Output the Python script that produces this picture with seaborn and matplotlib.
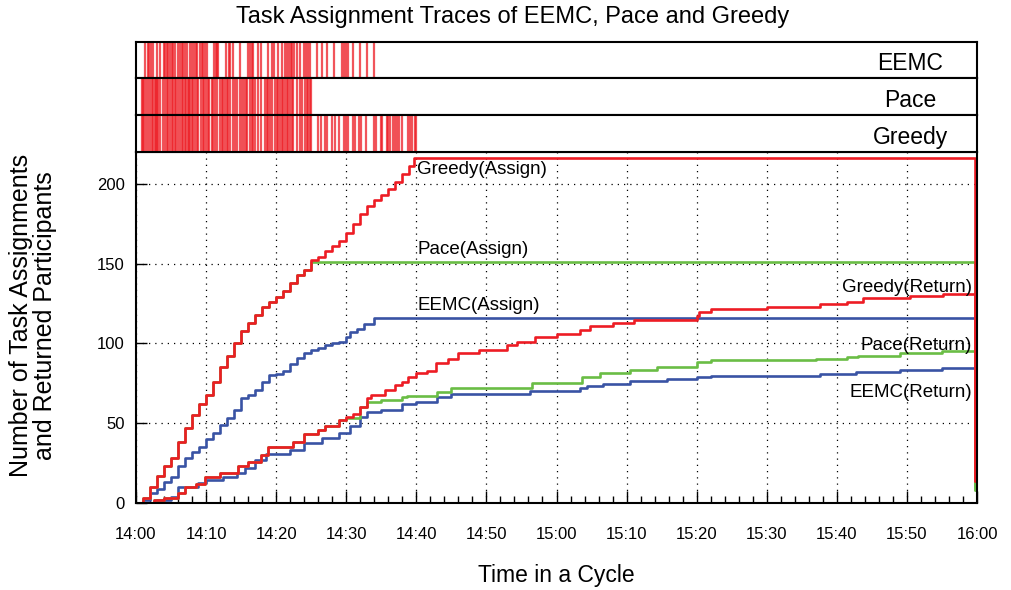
import numpy as np
import pandas as pd
import matplotlib
matplotlib.use("Agg")
import matplotlib.pyplot as plt
import seaborn as sns

# ---------------- data (minutes after 14:00) ----------------
greedy_assign_t = [0, 1, 2, 3, 4, 5, 6, 7, 8, 9, 10, 11, 12, 13, 14, 15, 16, 17, 18, 19, 20,
                   21, 22, 23, 24, 25, 26, 27, 28, 29, 30, 31, 32, 33, 34, 35, 36, 37, 38, 39,
                   39.6, 119.7, 119.7]
greedy_assign_v = [0, 3, 10, 17, 23, 28, 38, 47, 55, 62, 68, 76, 85, 92, 100, 108, 113, 118, 123,
                   126, 129, 133, 138, 143, 146, 152, 154, 158, 161, 164, 169, 175, 181, 186, 190,
                   193, 197, 201, 206, 211, 216, 216, 14]

pace_assign_t = [0, 1, 2, 3, 4, 5, 6, 7, 8, 9, 10, 11, 12, 13, 14, 15, 16, 17, 18, 19, 20,
                 21, 22, 23, 24, 25, 119.7, 119.7]
pace_assign_v = [0, 3, 10, 17, 23, 28, 38, 47, 55, 62, 68, 76, 85, 92, 100, 108, 113, 118, 123,
                 126, 129, 133, 138, 143, 146, 151, 151, 8]

eemc_assign_t = [0, 1, 2, 3, 4, 5, 6, 7, 8, 9, 10, 11, 12, 13, 14, 15, 16, 17, 18, 19, 20,
                 21, 22, 23, 24, 25, 26, 27, 28, 29, 30, 30.5, 31.5, 32.5, 34, 119.7, 119.7]
eemc_assign_v = [0, 2, 6, 9, 13, 16, 23, 28, 32, 35, 40, 44, 49, 53, 58, 66, 68, 71, 76, 80, 81,
                 83, 87, 91, 94, 96, 97, 99, 100, 101, 104, 107, 109, 112, 116, 116, 10]

greedy_return_t = [0, 2.5, 4, 6, 7, 8.5, 9.8, 12, 14.5, 16, 17.9, 18.8, 22.4, 24, 26, 27, 29, 30,
                   31, 32, 33, 33.5, 35.5, 37, 38, 38.8, 40, 41.5, 42.8, 44.5, 46, 49, 53, 54.3,
                   57, 60, 63.4, 64.8, 68, 71, 80, 80.4, 82, 90, 97.6, 101.4, 103.7, 110.4,
                   115.2, 119.7, 119.7]
greedy_return_v = [0, 2, 3, 6, 10, 12, 16, 19, 23, 26, 30, 35, 38, 43, 46, 48, 52, 54, 56, 60, 66,
                   68, 71, 74, 76, 79, 81.5, 83, 88, 90, 94, 96, 99, 101, 104, 106, 108.5, 111,
                   113, 115, 117, 120, 121.5, 123, 125, 126, 128.5, 130, 131, 131, 14]

pace_return_t = [0, 2.5, 4, 6, 7, 8.5, 9.8, 12, 14.5, 16, 17.9, 18.8, 22.4, 24, 26, 27, 29, 30,
                 32, 33, 35, 38, 38.6, 42.9, 45, 56.5, 63.6, 66.2, 70.5, 74.3, 80, 82.1, 97,
                 101.4, 103, 109, 115, 119.7, 119.7]
pace_return_v = [0, 2, 3, 6, 10, 12, 16, 19, 23, 26, 30, 35, 38, 43, 46, 48, 52, 53, 60, 63,
                 64.5, 66.5, 67, 69.8, 72, 75.5, 78.8, 81.7, 83.4, 85.5, 88.6, 89.6, 90.5, 91.5,
                 92.4, 94, 95, 95, 8]

eemc_return_t = [0, 3, 5, 6, 8.9, 10, 12.4, 14.4, 15.6, 17, 18.6, 22, 24, 26.5, 29, 30.5, 32,
                 33, 35, 38, 40, 42.9, 45, 56.2, 63.4, 64.3, 66.7, 70.5, 75.7, 80, 82.1, 97.6,
                 102.8, 109, 115, 119.7, 119.7]
eemc_return_v = [0, 2, 4, 10, 12.5, 14.5, 16.5, 19, 22, 27, 31, 33, 37.6, 40.8, 44, 48, 54, 57,
                 58.5, 62, 63.5, 66.6, 68.3, 70.4, 72, 73.4, 74.6, 76.5, 77.6, 78.8, 79.6, 81,
                 82, 83.4, 84.6, 84.6, 10]

# assignment event times for the trace strips
eemc_events = [1.28, 1.71, 1.9, 2.1, 2.47, 2.95, 3.42, 4.0, 4.2, 4.4, 4.6, 4.85, 5.1, 5.3, 5.56,
               6.04, 6.3, 6.5, 6.75, 7.0, 7.3, 7.7, 8.05, 8.3, 8.5, 8.66, 9.1, 9.4, 9.6, 9.9,
               10.2, 11.1, 11.4, 11.6, 11.75, 12.9, 13.2, 13.4, 13.8, 14.9, 16.0, 16.3, 16.6,
               16.7, 17.4, 17.9, 18.8, 19.4, 19.7, 20.3, 20.8, 21.3, 21.5, 21.9, 22.1, 22.3,
               22.5, 23.0, 23.4, 24.0, 24.3, 24.5, 24.8, 25.8, 26.5, 27.2, 28.2, 29.4, 29.7,
               30.0, 30.3, 31.0, 32.0, 32.9, 34.0]
pace_events = [0.9, 1.05, 1.19, 1.38, 1.66, 2.0, 2.24, 2.47, 2.71, 2.85, 3.0, 3.19, 3.38, 3.9,
               4.14, 4.38, 4.61, 4.8, 5.09, 5.33, 5.56, 5.75, 6.04, 6.28, 6.52, 6.7, 6.99, 7.18,
               7.37, 7.56, 7.75, 7.94, 8.18, 8.42, 8.7, 8.89, 9.27, 9.51, 9.75, 9.94, 10.23,
               10.42, 10.8, 11.03, 11.27, 11.51, 11.99, 12.22, 12.46, 12.7, 12.94, 13.17, 13.41,
               13.89, 14.13, 14.36, 14.84, 15.08, 15.36, 15.65, 15.84, 16.27, 16.5, 16.74,
               16.98, 17.46, 17.79, 18.4, 18.64, 18.88, 19.12, 19.36, 19.83, 20.07, 20.31,
               20.55, 20.79, 21.02, 21.26, 21.5, 21.74, 21.97, 22.21, 22.45, 22.93, 23.4,
               23.64, 24.12, 24.35, 24.59, 24.83, 25.0]
greedy_extra_events = [25.9, 26.4, 26.97, 27.3, 28.0, 28.4, 28.9, 29.7, 30.0, 30.3, 30.9, 31.2,
                       31.8, 32.1, 32.8, 33.9, 34.3, 34.96, 35.1, 35.8, 36.0, 36.3, 36.6, 36.9,
                       37.3, 37.5, 37.9, 38.8, 39.1, 39.4, 39.8, 40.0]
greedy_events = pace_events + greedy_extra_events

x_ticks = [0, 10, 20, 30, 40, 50, 60, 70, 80, 90, 100, 110, 120]
x_labels = ["14:00", "14:10", "14:20", "14:30", "14:40", "14:50", "15:00",
            "15:10", "15:20", "15:30", "15:40", "15:50", "16:00"]
y_ticks = [0, 50, 100, 150, 200]

RED = "#ed1c24"
GREEN = "#6abd45"
BLUE = "#3953a4"

# ---------------- style ----------------
sns.set_theme(style="white")
plt.rcParams["font.family"] = ["Liberation Sans", "DejaVu Sans"]
plt.rcParams["text.color"] = "black"
plt.rcParams["axes.labelcolor"] = "black"
plt.rcParams["xtick.color"] = "black"
plt.rcParams["ytick.color"] = "black"

W, H = 1011, 590
fig = plt.figure(figsize=(W / 100, H / 100), dpi=100)
fig.patch.set_facecolor("white")

def rect(x0, y0, x1, y1):
    return [x0 / W, 1 - y1 / H, (x1 - x0) / W, (y1 - y0) / H]

ax = fig.add_axes(rect(136, 152, 977, 503))
ax_e = fig.add_axes(rect(136, 42, 977, 78))
ax_p = fig.add_axes(rect(136, 78, 977, 115))
ax_g = fig.add_axes(rect(136, 115, 977, 152))

# ---------------- main curves ----------------
series = [
    (eemc_assign_t, eemc_assign_v, BLUE),
    (eemc_return_t, eemc_return_v, BLUE),
    (pace_assign_t, pace_assign_v, GREEN),
    (pace_return_t, pace_return_v, GREEN),
    (greedy_return_t, greedy_return_v, RED),
    (greedy_assign_t, greedy_assign_v, RED),
]
for t, v, c in series:
    df = pd.DataFrame({"t": t, "v": v})
    sns.lineplot(data=df, x="t", y="v", ax=ax, color=c, linewidth=1.9,
                 drawstyle="steps-post", estimator=None, sort=False)

ax.set_xlim(0, 120)
ax.set_ylim(0, 220)
ax.set_xticks(x_ticks)
ax.set_xticklabels(x_labels)
ax.set_xticks(np.arange(0, 121, 2), minor=True)
ax.set_yticks(y_ticks)
ax.tick_params(axis="x", which="major", direction="in", length=9, width=1, labelsize=12, pad=17,
               bottom=True)
ax.tick_params(axis="x", which="minor", direction="in", length=5, width=1, bottom=True)
ax.tick_params(axis="y", which="major", direction="in", length=8, width=1, labelsize=12, pad=8,
               left=True)
ax.grid(True, which="major", color="black", linestyle=(0, (1, 4)), linewidth=0.9)
for s in ax.spines.values():
    s.set_color("black")
    s.set_linewidth(1.5)

ax.set_xlabel("Time in a Cycle", fontsize=16.5, labelpad=16)
ax.set_ylabel("Number of Task Assignments\nand Returned Participants", fontsize=18,
              linespacing=1.0)
ax.yaxis.set_label_coords(-0.094, 0.535)

lab_fs = 13.5
ax.text(40.1, 209, "Greedy(Assign)", fontsize=lab_fs, ha="left", va="center")
ax.text(40.1, 159, "Pace(Assign)", fontsize=lab_fs, ha="left", va="center")
ax.text(40.1, 124, "EEMC(Assign)", fontsize=lab_fs, ha="left", va="center")
ax.text(119.3, 135, "Greedy(Return)", fontsize=lab_fs, ha="right", va="center")
ax.text(119.3, 99, "Pace(Return)", fontsize=lab_fs, ha="right", va="center")
ax.text(119.3, 69.5, "EEMC(Return)", fontsize=lab_fs, ha="right", va="center")

# ---------------- trace strips ----------------
for a, ev, name in [(ax_e, eemc_events, "EEMC"), (ax_p, pace_events, "Pace"),
                    (ax_g, greedy_events, "Greedy")]:
    sns.rugplot(x=ev, ax=a, height=1, color=RED, alpha=0.75, linewidth=1.6, expand_margins=False)
    a.set_xlim(0, 120)
    a.set_ylim(0, 1)
    a.set_xticks([])
    a.set_yticks([])
    a.set_xlabel("")
    a.set_ylabel("")
    for s in a.spines.values():
        s.set_color("black")
        s.set_linewidth(1.5)
    a.text(0.921, 0.40, name, transform=a.transAxes, fontsize=16.5, ha="center", va="center")

fig.text(513 / W, 1 - 17 / H, "Task Assignment Traces of EEMC, Pace and Greedy",
         fontsize=17, ha="center", va="center")

fig.savefig("out.png", dpi=100, facecolor="white")
